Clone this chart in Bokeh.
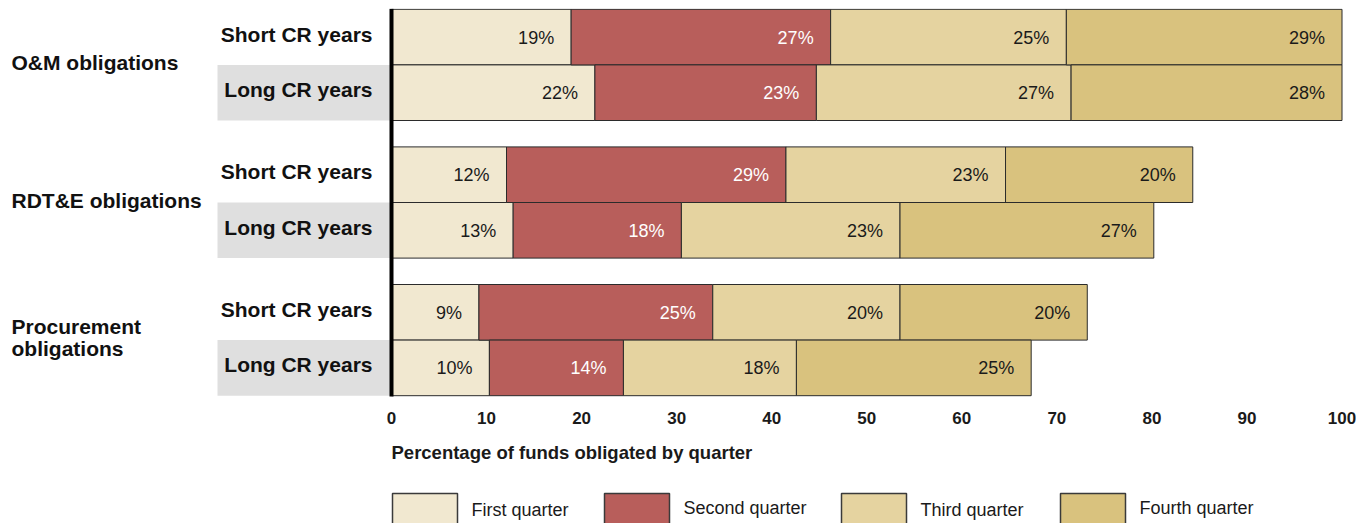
from bokeh.plotting import figure
from bokeh.layouts import column
from bokeh.models import Range1d, FixedTicker, ColumnDataSource
from bokeh.core.properties import value
from bokeh.embed import file_html
from bokeh.resources import INLINE

# ---------------- data ----------------
groups = ["O&M obligations", "RDT&E obligations", "Procurement\nobligations"]
row_types = ["Short CR years", "Long CR years"]
quarters = ["First quarter", "Second quarter", "Third quarter", "Fourth quarter"]
colors = ["#F1E8D0", "#B85E5B", "#E5D3A0", "#D9C27E"]
label_colors = ["#1a1a1a", "#ffffff", "#1a1a1a", "#1a1a1a"]

# rows: O&M short, O&M long, RDT&E short, RDT&E long, Procurement short, Procurement long
q1 = [18.9, 21.4, 12.1, 12.8, 9.2, 10.3]
q2 = [27.3, 23.3, 29.4, 17.7, 24.6, 14.1]
q3 = [24.8, 26.8, 23.1, 23.0, 19.7, 18.2]
q4 = [29.0, 28.5, 19.7, 26.7, 19.7, 24.7]
q1_labels = ["19%", "22%", "12%", "13%", "9%", "10%"]
q2_labels = ["27%", "23%", "29%", "18%", "25%", "14%"]
q3_labels = ["25%", "27%", "23%", "23%", "20%", "18%"]
q4_labels = ["29%", "28%", "20%", "27%", "20%", "25%"]

tick_values = [0, 10, 20, 30, 40, 50, 60, 70, 80, 90, 100]
x_title = "Percentage of funds obligated by quarter"

# ---------------- layout constants (pixels) ----------------
FONT = "Liberation Sans"
PX0 = 391.0          # canvas x of value 0
PXU = 9.505          # pixels per unit
MARGIN = 8
W = 1348             # frame width
TOP_FRAME_BOTTOM = 400
BOTTOM_BORDER = 34
A_H = MARGIN + (TOP_FRAME_BOTTOM - MARGIN) + BOTTOM_BORDER
B_TOP = A_H
B_H = 523 - B_TOP

ROW_TOP0 = 8.8
GROUP_STEP = 137.6
ROW_H = 55.6


def dx(px):
    return (px - PX0) / PXU


x_range = Range1d(dx(MARGIN), dx(MARGIN + W))

centers = []
for g in range(len(groups)):
    for r in range(len(row_types)):
        centers.append(ROW_TOP0 + g * GROUP_STEP + r * ROW_H + ROW_H / 2)

# ---------------- top figure: bars ----------------
p = figure(width=W + MARGIN, height=A_H, x_range=x_range,
           y_range=Range1d(TOP_FRAME_BOTTOM, MARGIN),
           output_backend="svg", toolbar_location=None,
           y_axis_location=None, title=None,
           min_border_left=MARGIN, min_border_right=0, min_border_top=MARGIN,
           min_border_bottom=BOTTOM_BORDER)
p.outline_line_color = None
p.xgrid.visible = False
p.ygrid.visible = False
p.background_fill_color = "white"
p.border_fill_color = "white"

# gray bands behind "Long CR years"
long_centers = [c for i, c in enumerate(centers) if i % 2 == 1]
p.quad(left=dx(217), right=0, top=[c - ROW_H / 2 for c in long_centers],
       bottom=[c + ROW_H / 2 for c in long_centers],
       fill_color="#DFDFDF", line_color=None)

series = [q1, q2, q3, q4]
series_labels = [q1_labels, q2_labels, q3_labels, q4_labels]
left = [0.0] * len(centers)
for qi, vals in enumerate(series):
    right = [l + v for l, v in zip(left, vals)]
    src = ColumnDataSource(dict(y=centers, left=left, right=right,
                                lab=series_labels[qi],
                                ty=[c + 0.5 for c in centers]))
    p.hbar(y="y", left="left", right="right", height=ROW_H, source=src,
           fill_color=colors[qi], line_color="#2b2b2b", line_width=1)
    p.text(x="right", y="ty", text="lab", source=src, x_offset=-17,
           text_align="right", text_baseline="middle",
           text_font=value(FONT), text_font_size=value("18px"),
           text_color=label_colors[qi])
    left = right

# thick zero line
p.segment(x0=[0], y0=[centers[0] - ROW_H / 2 - 0.5], x1=[0],
          y1=[centers[-1] + ROW_H / 2 + 0.8], line_width=4, line_color="black")

# row labels
p.text(x=[0] * len(centers), y=[c - 3 for c in centers],
       text=[row_types[i % 2] for i in range(len(centers))],
       x_offset=-19, text_align="right", text_baseline="middle",
       text_font=value(FONT), text_font_size=value("21px"),
       text_font_style="bold", text_color="#111111")

# group labels
gx, gy, gt = [], [], []
for g, name in enumerate(groups):
    gc = (centers[2 * g] + centers[2 * g + 1]) / 2
    lines = name.split("\n")
    if len(lines) == 1:
        gx.append(dx(11)); gy.append(gc - 2); gt.append(lines[0])
    else:
        for li, ln in enumerate(lines):
            gx.append(dx(11)); gy.append(gc - 14 + 22 * li); gt.append(ln)
p.text(x=gx, y=gy, text=gt, text_align="left", text_baseline="middle",
       text_font=value(FONT), text_font_size=value("21px"),
       text_font_style="bold", text_color="#111111")

# axis
ax = p.xaxis[0]
ax.ticker = FixedTicker(ticks=tick_values)
ax.axis_line_color = None
ax.major_tick_line_color = None
ax.minor_tick_line_color = None
ax.major_tick_out = 0
ax.major_tick_in = 0
ax.major_label_standoff = 11
ax.major_label_text_font = FONT
ax.major_label_text_font_size = "17px"
ax.major_label_text_font_style = "bold"
ax.major_label_text_color = "#1a1a1a"

# ---------------- bottom figure: axis title + legend ----------------
b = figure(width=W + MARGIN, height=B_H, x_range=x_range,
           y_range=Range1d(523, B_TOP),
           output_backend="svg", toolbar_location=None, title=None,
           x_axis_location=None, y_axis_location=None,
           min_border_left=MARGIN, min_border_right=0, min_border_top=0,
           min_border_bottom=0)
b.outline_line_color = None
b.xgrid.visible = False
b.ygrid.visible = False

b.text(x=[dx(391)], y=[452], text=[x_title], text_align="left",
       text_baseline="middle", text_font=value(FONT),
       text_font_size=value("18.5px"), text_font_style="bold",
       text_color="#1a1a1a")

legend_box_px = [392, 604, 841, 1060]
legend_text_y = [509.5, 507.5, 509.5, 507.5]
BOX_W = 65
b.quad(left=[dx(x) for x in legend_box_px],
       right=[dx(x + BOX_W) for x in legend_box_px],
       top=[493] * 4, bottom=[545] * 4, fill_color=colors,
       line_color="#3a3a3a", line_width=1.5)
b.text(x=[dx(x + BOX_W + 14) for x in legend_box_px], y=legend_text_y,
       text=quarters, text_align="left", text_baseline="middle",
       text_font=value(FONT), text_font_size=value("18px"),
       text_color="#1a1a1a")

layout = column(p, b, spacing=0)
open("out.html", "w").write(file_html(layout, INLINE))
